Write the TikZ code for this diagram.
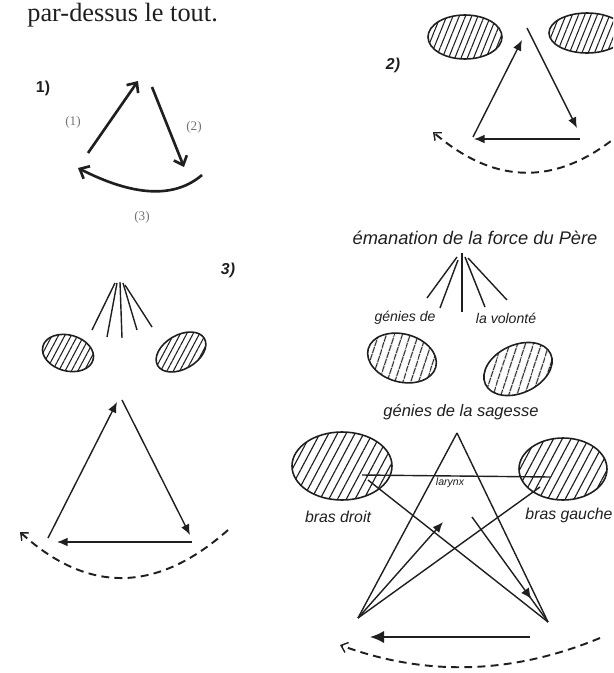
\documentclass[tikz,border=0pt]{standalone}
\usepackage{fontspec}
\setmainfont{Liberation Serif}
\setsansfont{Liberation Sans}
\usetikzlibrary{arrows.meta,patterns.meta,decorations.markings}
\definecolor{inkc}{gray}{0.12}
\definecolor{lblc}{gray}{0.45}
\begin{document}
\begin{tikzpicture}[x=0.02cm,y=-0.02cm,
  ink/.style={draw=inkc, line width=0.8pt},
  thickink/.style={draw=inkc, line width=1.5pt},
  barb/.style={-{Straight Barb[length=4.5pt,width=8pt]}},
  fill tip/.style={-{Latex[length=6pt,width=5pt]}},
  big tip/.style={-{Latex[length=8pt,width=7pt]}},
  dasharc/.style={draw=inkc, line width=1.1pt, dash pattern=on 4.5pt off 3pt,
     -{Straight Barb[length=3.5pt,width=6pt,line width=0.8pt]}},
  oval/.style={draw=inkc, line width=0.9pt},
  hatchA/.style={pattern={Lines[angle=68,distance=3.3pt,line width=0.6pt]}, pattern color=inkc},
  hatchB/.style={pattern={Lines[angle=62,distance=3.2pt,line width=0.6pt]}, pattern color=inkc},
  hatchC/.style={pattern={Lines[angle=72,distance=4pt,line width=0.65pt]}, pattern color=inkc},
  hatchD/.style={pattern={Lines[angle=62,distance=4.4pt,line width=0.65pt]}, pattern color=inkc},
  lbl/.style={text=lblc, font=\fontsize{7.5}{8}\selectfont},
  cap/.style={text=inkc, font=\sffamily\itshape\fontsize{#1}{#1}\selectfont, inner sep=0pt},
  num/.style={text=inkc, font=\sffamily\bfseries\itshape\fontsize{9}{9}\selectfont, inner sep=0pt},
  mid tip/.style={postaction={decorate, decoration={markings,
     mark=at position 0.78 with {\arrow{Latex[length=6pt,width=5.5pt]}}}}}
]
\clip (0,0) rectangle (613,673);
\useasboundingbox (0,0) rectangle (613,673);

% header
\node[anchor=base west, inner sep=0pt, text=inkc, font=\fontsize{15}{16}\selectfont] (hdr) at (27,21) {par-dessus le tout.};

% ---------- figure 1 ----------
\node[num, font=\sffamily\bfseries\fontsize{9}{9}\selectfont] (n1) at (43,88) {1)};
\coordinate (a1s) at (88,153); \coordinate (a1e) at (138,81);
\coordinate (a2s) at (152,87); \coordinate (a2e) at (184,167);
\coordinate (a3s) at (202,175); \coordinate (a3e) at (78,168);
\draw[thickink, barb] (a1s) -- (a1e);
\draw[thickink, barb] (a2s) -- (a2e);
\draw[thickink, barb] (a3s) .. controls (174,199) and (133,196) .. (a3e);
\node[lbl] (l1) at (73,122) {(1)};
\node[lbl] (l2) at (194,127) {(2)};
\node[lbl] (l3) at (142,217) {(3)};

% ---------- figure 2 ----------
\node[num] (n2) at (393,65) {2)};
\draw[oval, hatchA] (465,37) ellipse [x radius=37, y radius=22];
\draw[oval, hatchA] (587,33) ellipse [x radius=38, y radius=20];
\coordinate (t2a) at (522,40); \coordinate (t2l) at (473,137);
\coordinate (t2r0) at (527,28); \coordinate (t2r) at (577,128);
\coordinate (t2b0) at (580,139); \coordinate (t2b) at (474,139);
\draw[ink, fill tip] (t2l) -- (t2a);
\draw[ink, fill tip] (t2r0) -- (t2r);
\draw[ink, fill tip] (t2b0) -- (t2b);
\coordinate (d2s) at (621,133); \coordinate (d2e) at (433,132);
\draw[dasharc] (d2s) .. controls (558,186) and (496,186) .. (d2e);

% ---------- figure 3 ----------
\node[num] (n3) at (228,270) {3)};
\foreach \tx/\ty/\bx/\by [count=\i] in {115/283/92/330, 117/283/107/337, 120/282/122/338, 123/283/137/330, 125/285/152/327}{
  \coordinate (f3t\i) at (\tx,\ty); \coordinate (f3b\i) at (\bx,\by);
  \draw[ink] (f3t\i) -- (f3b\i);
}
\draw[oval, hatchB, rotate around={-15:(68,353)}] (68,353) ellipse [x radius=26, y radius=18];
\draw[oval, hatchB, rotate around={30:(181,352)}] (181,352) ellipse [x radius=27, y radius=17];
\coordinate (t3a) at (117,402); \coordinate (t3l) at (48,538);
\coordinate (t3r0) at (122,400); \coordinate (t3r) at (190,535);
\coordinate (t3b0) at (192,542); \coordinate (t3b) at (57,542);
\draw[ink, fill tip] (t3l) -- (t3a);
\draw[ink, fill tip] (t3r0) -- (t3r);
\draw[ink, fill tip] (t3b0) -- (t3b);
\coordinate (d3s) at (228,530); \coordinate (d3e) at (20,532);
\draw[dasharc] (d3s) .. controls (157,593) and (88,594) .. (d3e);

% ---------- figure 4 ----------
\node[cap=10.4] (em) at (475,238) {émanation de la force du Père};
\foreach \tx/\ty/\bx/\by [count=\i] in {457/257/427/298, 458/260/440/308, 462/253/462/312, 465/257/485/307, 468/258/507/300}{
  \coordinate (f4t\i) at (\tx,\ty); \coordinate (f4b\i) at (\bx,\by);
  \draw[ink] (f4t\i) -- (f4b\i);
}
\node[cap=8] (gv1) at (405,318) {génies de};
\node[cap=8] (gv2) at (506,318) {la volonté};
\draw[oval, hatchC, rotate around={-15:(402,358)}] (402,358) ellipse [x radius=35, y radius=24];
\draw[oval, hatchC, rotate around={25:(518,369)}] (518,369) ellipse [x radius=36, y radius=24];
\node[cap=9.4] (gs) at (461,412) {génies de la sagesse};

\draw[oval, hatchD] (342,466) ellipse [x radius=50, y radius=34];
\draw[oval, hatchD] (563,469) ellipse [x radius=44, y radius=31];
\node[cap=9] (bd) at (338,517) {bras droit};
\node[cap=9] (bg) at (569,515) {bras gauche};
\node[cap=6] (lx) at (450,483) {larynx};

\coordinate (S) at (457,433); \coordinate (BL) at (358,618); \coordinate (BR) at (548,622);
\coordinate (hR) at (550,477); \coordinate (hL) at (362,475);
\coordinate (dL) at (368,480);
\coordinate (mS) at (472,517);
\coordinate (uE) at (443,522);
\coordinate (rE) at (540,487);
\draw[ink] (S) -- (BL);
\draw[ink] (S) -- (BR);
\draw[ink] (hR) -- (hL);
\draw[ink] (dL) -- (BR);
\draw[ink, mid tip] (mS) -- (BR);
\draw[ink, fill tip] (BL) -- (uE);
\draw[ink] (BL) -- (rE);
\coordinate (b4s) at (530,637); \coordinate (b4e) at (370,637);
\draw[ink, line width=1pt, big tip] (b4s) -- (b4e);
\coordinate (d4s) at (600,638); \coordinate (d4e) at (340,645);
\draw[dasharc] (d4s) .. controls (513,674) and (427,677) .. (d4e);
\end{tikzpicture}
\end{document}
